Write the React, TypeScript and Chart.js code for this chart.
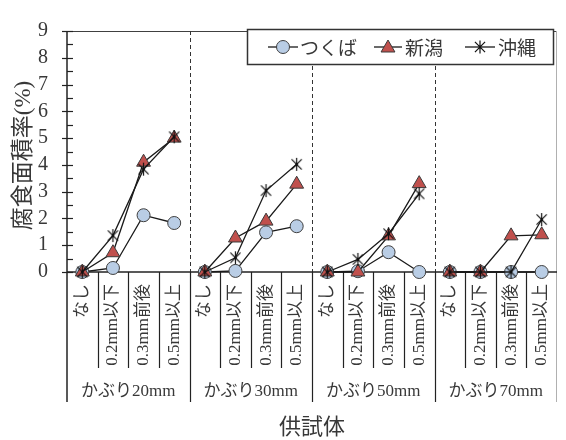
import { useEffect, useRef } from 'react';
import { Chart, registerables } from 'chart.js';

Chart.register(...registerables);

// Specimen groups (concrete cover) and crack-width conditions within each group
const coverGroups = ['かぶり20mm', 'かぶり30mm', 'かぶり50mm', 'かぶり70mm'];
const crackWidths = ['なし', '0.2mm以下', '0.3mm前後', '0.5mm以上'];
const categories = coverGroups.flatMap((g) => crackWidths.map((c) => `${g} ${c}`));

// Corrosion area ratio (%) per exposure site
const tsukuba = [0, 0.15, 2.12, 1.83, 0, 0.04, 1.48, 1.71, 0, 0.03, 0.74, 0, 0, 0, 0, 0];
const niigata = [0, 0.72, 4.1, 5.0, 0, 1.27, 1.9, 3.28, 0, 0, 1.35, 3.3, 0, 0, 1.35, 1.39];
const okinawa = [0, 1.36, 3.84, 5.05, 0, 0.53, 3.04, 4.02, 0, 0.47, 1.43, 2.92, 0, 0, 0, 1.96];

const yTicks = [0, 1, 2, 3, 4, 5, 6, 7, 8, 9];

const yTitle = '腐食面積率(%)';
const xTitle = '供試体';

const LINE = '#1a1a1a';
const CIRCLE_FILL = '#b9cde5';
const CIRCLE_EDGE = '#3f3f3f';
const TRI_FILL = '#c0504d';
const TRI_EDGE = '#3a3a3a';
const TEXT = '#383838';
const SERIF = '"Liberation Serif", "Noto Sans CJK JP", serif';
const JP = '"Noto Sans CJK JP", sans-serif';

function drawAsterisk(ctx: CanvasRenderingContext2D, cx: number, cy: number, r: number) {
  ctx.save();
  ctx.strokeStyle = '#111';
  ctx.lineWidth = 1.2;
  ctx.beginPath();
  ctx.moveTo(cx, cy - r);
  ctx.lineTo(cx, cy + r);
  const d = r * 0.78;
  ctx.moveTo(cx - d, cy - d);
  ctx.lineTo(cx + d, cy + d);
  ctx.moveTo(cx + d, cy - d);
  ctx.lineTo(cx - d, cy + d);
  ctx.stroke();
  ctx.fillStyle = '#111';
  ctx.beginPath();
  ctx.arc(cx, cy, 1.3, 0, Math.PI * 2);
  ctx.fill();
  ctx.restore();
}

function makeStarImage(size: number) {
  const c = document.createElement('canvas');
  c.width = size;
  c.height = size;
  const g = c.getContext('2d')!;
  drawAsterisk(g, size / 2, size / 2, size / 2 - 1);
  return c;
}

function drawTriangle(ctx: CanvasRenderingContext2D, cx: number, cy: number, r: number) {
  ctx.beginPath();
  for (let i = 0; i < 3; i++) {
    const a = (i * 2 * Math.PI) / 3;
    const px = cx + Math.sin(a) * r;
    const py = cy - Math.cos(a) * r;
    if (i === 0) ctx.moveTo(px, py);
    else ctx.lineTo(px, py);
  }
  ctx.closePath();
  ctx.fillStyle = TRI_FILL;
  ctx.fill();
  ctx.strokeStyle = TRI_EDGE;
  ctx.lineWidth = 1;
  ctx.stroke();
}

const framePlugin = {
  id: 'specimenFrame',
  beforeDatasetsDraw(chart: any) {
    const { ctx, chartArea, scales } = chart;
    const { left, right, top, bottom } = chartArea;
    const x = scales.x;
    const y = scales.y;
    const w = x.getPixelForValue(1) - x.getPixelForValue(0);
    const n = categories.length;
    const lowerShort = bottom + 96;
    const lowerLong = bottom + 130;

    ctx.save();
    // top border
    ctx.strokeStyle = '#404040';
    ctx.lineWidth = 1;
    ctx.beginPath();
    ctx.moveTo(left, top + 0.5);
    ctx.lineTo(right, top + 0.5);
    ctx.stroke();
    // right border
    ctx.strokeStyle = '#b0b0b0';
    ctx.beginPath();
    ctx.moveTo(right - 0.5, top);
    ctx.lineTo(right - 0.5, lowerLong);
    ctx.stroke();

    // dashed separators between cover groups
    ctx.strokeStyle = '#333';
    ctx.setLineDash([4, 3]);
    for (let g = 1; g < coverGroups.length; g++) {
      const bx = Math.round(x.getPixelForValue(g * crackWidths.length) - w / 2) + 0.5;
      ctx.beginPath();
      ctx.moveTo(bx, top);
      ctx.lineTo(bx, bottom);
      ctx.stroke();
    }
    ctx.setLineDash([]);

    // dividers in the category table below the axis
    ctx.strokeStyle = '#222';
    ctx.lineWidth = 1.2;
    for (let i = 1; i < n; i++) {
      const bx = Math.round(x.getPixelForValue(i) - w / 2) + 0.5;
      const isGroup = i % crackWidths.length === 0;
      ctx.beginPath();
      ctx.moveTo(bx, bottom);
      ctx.lineTo(bx, isGroup ? lowerLong : lowerShort);
      ctx.stroke();
    }

    // y axis line
    ctx.lineWidth = 1.5;
    ctx.beginPath();
    ctx.moveTo(left, top);
    ctx.lineTo(left, lowerLong);
    ctx.stroke();
    // x axis line
    ctx.beginPath();
    ctx.moveTo(left, bottom);
    ctx.lineTo(right, bottom);
    ctx.stroke();

    // major and minor y ticks
    ctx.lineWidth = 1.2;
    for (const v of yTicks) {
      const py = Math.round(y.getPixelForValue(v)) + 0.5;
      ctx.beginPath();
      ctx.moveTo(left - 5, py);
      ctx.lineTo(left + 6, py);
      ctx.stroke();
      if (v < yTicks[yTicks.length - 1]) {
        const pm = Math.round(y.getPixelForValue(v + 0.5)) + 0.5;
        ctx.beginPath();
        ctx.moveTo(left, pm);
        ctx.lineTo(left + 6, pm);
        ctx.stroke();
      }
    }
    ctx.restore();
  },
  afterDraw(chart: any) {
    const { ctx, chartArea, scales } = chart;
    const { left, right, top, bottom } = chartArea;
    const x = scales.x;

    ctx.save();
    // rotated crack-width labels
    ctx.fillStyle = TEXT;
    ctx.font = `17px ${SERIF}`;
    ctx.textAlign = 'right';
    ctx.textBaseline = 'middle';
    categories.forEach((_, i) => {
      const cx = x.getPixelForValue(i);
      ctx.save();
      ctx.translate(cx, bottom + 12);
      ctx.rotate(-Math.PI / 2);
      ctx.fillText(crackWidths[i % crackWidths.length], 0, 0);
      ctx.restore();
    });

    // cover group labels
    ctx.textAlign = 'center';
    ctx.font = `17px ${SERIF}`;
    coverGroups.forEach((g, gi) => {
      const a = x.getPixelForValue(gi * crackWidths.length);
      const b = x.getPixelForValue(gi * crackWidths.length + crackWidths.length - 1);
      ctx.fillText(g, (a + b) / 2, bottom + 120);
    });

    // axis titles
    ctx.font = `22px ${SERIF}`;
    ctx.fillText(xTitle, (left + right) / 2, bottom + 156);
    ctx.font = `23px ${SERIF}`;
    ctx.save();
    ctx.translate(24, (top + bottom) / 2 + 4);
    ctx.rotate(-Math.PI / 2);
    ctx.fillText(yTitle, 0, 0);
    ctx.restore();

    // legend box
    const bx = 247.5;
    const by = 29.5;
    const bw = 306;
    const bh = 35;
    const cy = by + bh / 2;
    ctx.fillStyle = '#fff';
    ctx.fillRect(bx, by, bw, bh);
    ctx.strokeStyle = '#333';
    ctx.lineWidth = 1.5;
    ctx.strokeRect(bx, by, bw, bh);

    const items = [
      { x0: 268, x1: 298, tx: 300 },
      { x0: 374, x1: 402, tx: 405 },
      { x0: 465, x1: 495, tx: 498 },
    ];
    chart.data.datasets.forEach((ds: any, i: number) => {
      const it = items[i];
      const mx = (it.x0 + it.x1) / 2;
      ctx.strokeStyle = LINE;
      ctx.lineWidth = 1.3;
      ctx.beginPath();
      ctx.moveTo(it.x0, cy);
      ctx.lineTo(it.x1, cy);
      ctx.stroke();
      if (i === 0) {
        ctx.beginPath();
        ctx.arc(mx, cy, 6.5, 0, Math.PI * 2);
        ctx.fillStyle = CIRCLE_FILL;
        ctx.fill();
        ctx.strokeStyle = CIRCLE_EDGE;
        ctx.lineWidth = 1;
        ctx.stroke();
      } else if (i === 1) {
        drawTriangle(ctx, mx, cy + 1, 8);
      } else {
        drawAsterisk(ctx, mx, cy, 6.5);
      }
      ctx.fillStyle = TEXT;
      ctx.font = `19px ${JP}`;
      ctx.textAlign = 'left';
      ctx.textBaseline = 'middle';
      ctx.fillText(ds.label, it.tx, cy + 1);
    });
    ctx.restore();
  },
};

export default function App() {
  const canvasRef = useRef<HTMLCanvasElement | null>(null);

  useEffect(() => {
    document.body.style.margin = '0';
    const canvas = canvasRef.current;
    if (!canvas) return;
    const star = makeStarImage(15);
    const breakBetweenGroups = (c: any) =>
      c.p0DataIndex % crackWidths.length === crackWidths.length - 1 ? 'rgba(0,0,0,0)' : LINE;

    const chart = new Chart(canvas, {
      type: 'line',
      data: {
        labels: categories,
        datasets: [
          {
            label: 'つくば',
            data: tsukuba,
            borderColor: LINE,
            borderWidth: 1.3,
            pointStyle: 'circle',
            pointRadius: 6.5,
            pointBackgroundColor: CIRCLE_FILL,
            pointBorderColor: CIRCLE_EDGE,
            pointBorderWidth: 1,
            segment: { borderColor: breakBetweenGroups },
            order: 3,
            clip: false,
          },
          {
            label: '新潟',
            data: niigata,
            borderColor: LINE,
            borderWidth: 1.3,
            pointStyle: 'triangle',
            pointRadius: 8,
            pointBackgroundColor: TRI_FILL,
            pointBorderColor: TRI_EDGE,
            pointBorderWidth: 1,
            segment: { borderColor: breakBetweenGroups },
            order: 2,
            clip: false,
          },
          {
            label: '沖縄',
            data: okinawa,
            borderColor: LINE,
            borderWidth: 1.3,
            pointStyle: star as any,
            pointRadius: 7,
            segment: { borderColor: breakBetweenGroups },
            order: 1,
            clip: false,
          },
        ] as any,
      },
      options: {
        responsive: false,
        animation: false,
        events: [],
        layout: { padding: { top: 18, right: 4, left: 0, bottom: 0 } },
        plugins: { legend: { display: false }, tooltip: { enabled: false } },
        scales: {
          x: {
            type: 'category',
            offset: true,
            grid: { display: false, drawTicks: false },
            border: { display: false },
            ticks: { display: false },
            afterFit: (s: any) => {
              s.height = 168;
            },
          },
          y: {
            min: 0,
            max: 9,
            grid: { display: false, drawTicks: false },
            border: { display: false },
            ticks: {
              stepSize: 1,
              autoSkip: false,
              padding: 19,
              color: TEXT,
              font: { family: SERIF, size: 20 },
              callback: (v: any) => (yTicks.includes(Number(v)) ? String(v) : ''),
            },
            afterFit: (s: any) => {
              s.width = 67;
            },
          },
        },
      },
      plugins: [framePlugin],
    });
    return () => chart.destroy();
  }, []);

  return (
    <div style={{ width: 566, height: 440, background: '#fff' }}>
      <canvas ref={canvasRef} width={566} height={440} />
    </div>
  );
}
